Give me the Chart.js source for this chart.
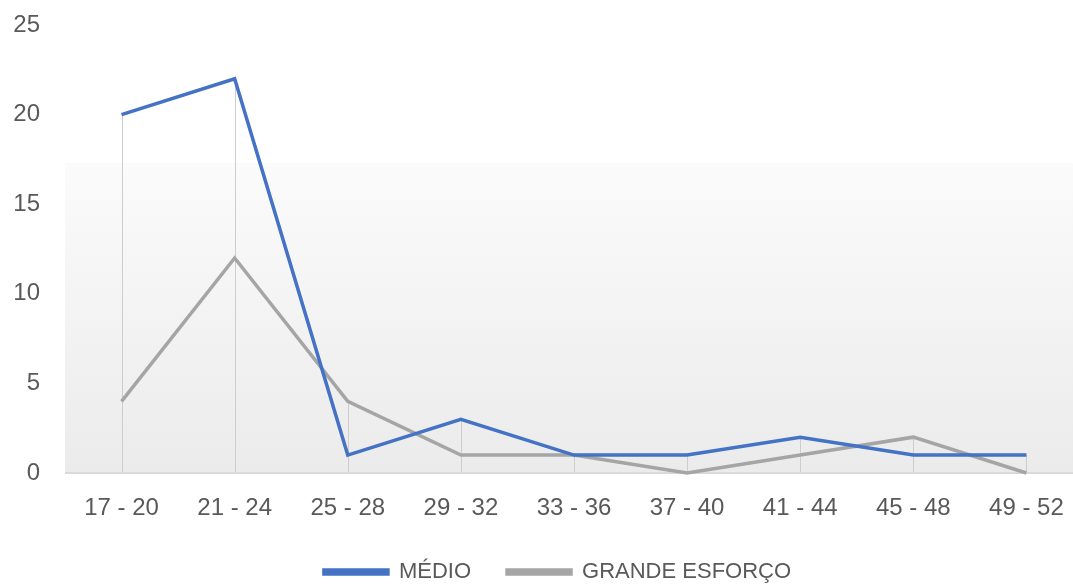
<!DOCTYPE html>
<html>
<head>
<meta charset="utf-8">
<script src="https://cdn.jsdelivr.net/npm/chart.js@4"></script>
<style>
  html, body { margin: 0; padding: 0; background: #fff; overflow: hidden; }
  #wrap { width: 1115px; height: 593px; }
</style>
</head>
<body>
<div id="wrap"><canvas id="chart"></canvas></div>
<script>
'use strict';

let ageGroups = ['17 - 20', '21 - 24', '25 - 28', '29 - 32', '33 - 36', '37 - 40', '41 - 44', '45 - 48', '49 - 52'];
let medio = [20, 22, 1, 3, 1, 1, 2, 1, 1];
let grandeEsforco = [4, 12, 4, 1, 1, 0, 1, 2, 0];
let yTicks = [0, 5, 10, 15, 20, 25];

let canvasElem = document.getElementById('chart');

// plot background fill + drop lines from the highest point of each category
let backdrop = {
    id: 'backdrop',
    beforeDatasetsDraw(chart) {
        let ctx = chart.ctx;
        let area = chart.chartArea;
        let x = chart.scales.x;
        let y = chart.scales.y;
        let top = y.getPixelForValue(17.3);
        let grad = ctx.createLinearGradient(0, top, 0, area.bottom);
        grad.addColorStop(0, '#fbfbfb');
        grad.addColorStop(1, '#ebebeb');
        ctx.save();
        ctx.fillStyle = grad;
        ctx.fillRect(area.left, top, area.right - area.left, area.bottom - top);

        ctx.strokeStyle = '#cdcdcd';
        ctx.lineWidth = 1;
        for (let i = 0; i < ageGroups.length; i++) {
            let px = Math.round(x.getPixelForValue(i)) + 0.5;
            let hi = Math.max(medio[i], grandeEsforco[i]);
            ctx.beginPath();
            ctx.moveTo(px, y.getPixelForValue(hi));
            ctx.lineTo(px, y.getPixelForValue(0));
            ctx.stroke();
        }
        // category axis line
        ctx.strokeStyle = '#d9d9d9';
        ctx.lineWidth = 2;
        ctx.beginPath();
        ctx.moveTo(area.left, y.getPixelForValue(0));
        ctx.lineTo(area.right, y.getPixelForValue(0));
        ctx.stroke();
        ctx.restore();
    }
};

function renderChart() {
    Chart.defaults.font.family = '"Liberation Sans", Arial, sans-serif';
    Chart.defaults.color = '#595959';

    let chartObj = {
        type: 'line',
        data: {
            labels: ageGroups,
            datasets: [{
                label: 'MÉDIO',
                data: medio,
                borderColor: '#4472c4',
                backgroundColor: '#4472c4',
                borderWidth: 3.5,
                pointRadius: 0,
                tension: 0,
                clip: false
            },
            {
                label: 'GRANDE ESFORÇO',
                data: grandeEsforco,
                borderColor: '#a5a5a5',
                backgroundColor: '#a5a5a5',
                borderWidth: 3.5,
                pointRadius: 0,
                tension: 0,
                clip: false
            }]
        },
        options: {
            responsive: true,
            maintainAspectRatio: false,
            animation: false,
            layout: { padding: { top: 25, left: 0, right: 0, bottom: 0 } },
            scales: {
                x: {
                    offset: true,
                    afterFit: s => { s.height = 52; s.paddingLeft = 0; s.paddingRight = 0; },
                    grid: { display: false, drawTicks: false },
                    border: { display: false },
                    ticks: { padding: 21, font: { size: 24 }, maxRotation: 0 }
                },
                y: {
                    min: 0,
                    max: 25,
                    afterBuildTicks: s => { s.ticks = yTicks.map(v => ({ value: v })); },
                    afterFit: s => { s.width = 65; s.paddingTop = 0; s.paddingBottom = 0; },
                    grid: { display: false, drawTicks: false },
                    border: { display: false },
                    ticks: { padding: 25, font: { size: 24 } }
                },
                yRight: {
                    position: 'right',
                    display: true,
                    afterFit: s => { s.width = 32; s.paddingTop = 0; s.paddingBottom = 0; },
                    grid: { display: false, drawTicks: false },
                    border: { display: false },
                    ticks: { display: false }
                }
            },
            plugins: {
                legend: {
                    position: 'bottom',
                    labels: {
                        boxWidth: 64,
                        boxHeight: 4,
                        padding: 36,
                        font: { size: 22 },
                        color: '#595959'
                    }
                },
                tooltip: { enabled: false }
            }
        },
        plugins: [backdrop]
    };
    new Chart(canvasElem, chartObj);
}

renderChart();
</script>
</body>
</html>
